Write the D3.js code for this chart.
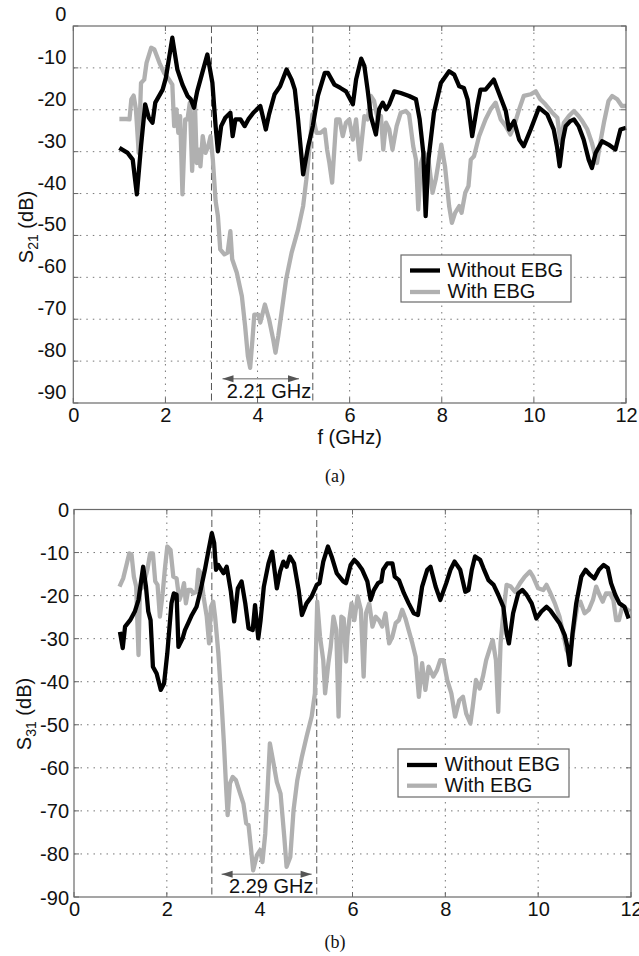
<!DOCTYPE html>
<html><head><meta charset="utf-8">
<script src="https://cdn.jsdelivr.net/npm/d3@7"></script>
<style>body{margin:0;background:#fff}svg{display:block}</style>
</head><body>
<svg id="c" width="639" height="956"></svg>
<script>
// ---------- data ----------
const xTicks = [0, 2, 4, 6, 8, 10, 12];
const yTicks = [0, -10, -20, -30, -40, -50, -60, -70, -80, -90];
const seriesNames = ["Without EBG", "With EBG"];
const bandLabels = ["2.21 GHz", "2.29 GHz"];
const bandEdgesA = [3.0, 5.2];
const bandEdgesB = [2.97, 5.23];

const s21Without = [[1.00,-29.1],[1.18,-30.3],[1.29,-31.9],[1.38,-40.2],[1.47,-28.7],[1.56,-18.7],[1.64,-21.9],[1.72,-23.1],[1.78,-18.3],[1.94,-15.2],[2.01,-12.4],[2.15,-2.8],[2.26,-10.4],[2.37,-14],[2.48,-16.7],[2.55,-17.5],[2.62,-19.5],[2.69,-15.6],[2.80,-11.2],[2.91,-6.8],[3.02,-13.6],[3.09,-23.9],[3.14,-29.9],[3.21,-23.9],[3.30,-21.9],[3.41,-20.7],[3.46,-26.3],[3.52,-22.3],[3.63,-22.3],[3.72,-23.9],[3.80,-22.3],[3.91,-20.7],[4.06,-19.1],[4.13,-22.3],[4.18,-24.7],[4.25,-21.1],[4.37,-16.3],[4.49,-14.4],[4.63,-10.4],[4.74,-12.8],[4.81,-15.2],[4.88,-22.3],[4.99,-35.4],[5.10,-28.7],[5.20,-23.9],[5.31,-16.7],[5.46,-11.2],[5.53,-11.2],[5.67,-14],[5.80,-14.8],[5.92,-15.6],[6.07,-18.7],[6.14,-12.8],[6.25,-7.8],[6.32,-9.6],[6.39,-15.2],[6.46,-21.5],[6.57,-25.9],[6.64,-19.9],[6.72,-18.3],[6.79,-19.9],[6.86,-18.7],[6.97,-15.6],[7.11,-16],[7.29,-16.7],[7.44,-17.5],[7.52,-22.3],[7.60,-30.3],[7.65,-45.4],[7.71,-31.9],[7.83,-20.7],[7.98,-13.6],[8.16,-10.8],[8.27,-11.6],[8.38,-14.4],[8.48,-14.8],[8.56,-17.5],[8.66,-26.3],[8.77,-19.1],[8.84,-15.2],[8.95,-15.2],[9.13,-12.8],[9.24,-16],[9.39,-20.3],[9.46,-24.7],[9.57,-22.7],[9.68,-27.1],[9.78,-28.7],[9.93,-24.7],[10.11,-19.5],[10.29,-21.1],[10.43,-24.7],[10.50,-28.7],[10.56,-33.5],[10.63,-27.1],[10.69,-23.9],[10.79,-22.7],[10.87,-22.3],[10.97,-23.9],[11.08,-27.1],[11.19,-31.9],[11.26,-33.9],[11.34,-30.3],[11.48,-27.5],[11.62,-28.3],[11.77,-29.5],[11.88,-24.7],[12.0,-24.3]];

const s21With = [[1.00,-22.2],[1.15,-22.2],[1.22,-22.3],[1.26,-17.5],[1.31,-16.6],[1.36,-19.9],[1.42,-30.3],[1.47,-13.6],[1.54,-12.8],[1.59,-8.8],[1.69,-5.2],[1.76,-5.6],[1.87,-8.8],[1.97,-11.2],[2.08,-12.8],[2.15,-14],[2.19,-23.9],[2.24,-19.9],[2.28,-25.5],[2.32,-21.5],[2.37,-40.2],[2.43,-22.3],[2.48,-22.3],[2.53,-18.3],[2.58,-34.6],[2.64,-18.3],[2.68,-32.7],[2.73,-29.5],[2.76,-33.5],[2.81,-26.3],[2.87,-30.3],[2.93,-28.7],[2.98,-26.3],[3.03,-31.9],[3.09,-41.8],[3.14,-45.4],[3.19,-53.3],[3.28,-54.5],[3.35,-54.1],[3.41,-49.0],[3.45,-55.7],[3.55,-58.9],[3.66,-64.5],[3.73,-71.6],[3.79,-78.8],[3.84,-81.6],[3.89,-74.8],[3.93,-68.9],[4.02,-68.9],[4.06,-70.8],[4.16,-66.5],[4.25,-70.0],[4.34,-74.8],[4.39,-78.0],[4.45,-74.0],[4.52,-68.5],[4.62,-60.5],[4.74,-54.1],[4.88,-48.6],[4.99,-43.0],[5.06,-36.6],[5.13,-28.7],[5.19,-21.1],[5.28,-25.5],[5.37,-25.5],[5.46,-24.7],[5.51,-29.5],[5.56,-32.7],[5.62,-37.4],[5.71,-22.3],[5.78,-22.3],[5.85,-26.3],[5.92,-23.1],[5.99,-22.3],[6.07,-27.1],[6.14,-22.3],[6.22,-31.9],[6.32,-21.5],[6.39,-22.3],[6.46,-16.7],[6.53,-17.9],[6.61,-22.3],[6.68,-21.5],[6.73,-29.5],[6.79,-23.1],[6.86,-24.7],[6.93,-29.5],[7.02,-23.9],[7.11,-20.7],[7.22,-20.3],[7.29,-21.1],[7.38,-28.7],[7.44,-31.9],[7.49,-43.8],[7.55,-32.7],[7.62,-30.3],[7.71,-31.9],[7.80,-39.8],[7.87,-36.6],[7.94,-31.9],[7.99,-28.3],[8.07,-33.5],[8.16,-43.0],[8.22,-47.0],[8.29,-44.6],[8.38,-43.0],[8.43,-44.6],[8.51,-39.8],[8.58,-38.2],[8.63,-31.9],[8.70,-31.1],[8.81,-26.3],[8.95,-22.3],[9.06,-19.9],[9.17,-18.3],[9.28,-22.3],[9.39,-23.9],[9.49,-25.9],[9.57,-23.9],[9.68,-19.9],[9.78,-16.7],[9.93,-16.3],[10.04,-15.6],[10.14,-17.5],[10.25,-18.7],[10.40,-20.7],[10.51,-21.9],[10.58,-27.9],[10.65,-23.1],[10.76,-21.5],[10.87,-20.3],[10.97,-21.5],[11.05,-22.7],[11.16,-24.7],[11.26,-27.9],[11.37,-32.7],[11.44,-27.9],[11.52,-23.1],[11.62,-17.9],[11.70,-16.7],[11.81,-17.5],[11.91,-19.1],[12.0,-19.1]];

const s31Without = [[0.99,-28.4],[1.05,-32.2],[1.10,-27.2],[1.21,-25.7],[1.31,-23.7],[1.39,-21.0],[1.44,-17.1],[1.49,-13.3],[1.55,-17.9],[1.60,-23.7],[1.65,-25.7],[1.70,-36.5],[1.78,-38.1],[1.87,-41.9],[1.94,-40.4],[2.01,-33.4],[2.10,-21.8],[2.15,-19.5],[2.21,-19.8],[2.25,-31.9],[2.34,-29.9],[2.39,-28.0],[2.46,-26.4],[2.54,-24.5],[2.64,-22.6],[2.72,-19.1],[2.82,-14.0],[2.90,-9.4],[2.97,-5.5],[3.02,-7.8],[3.06,-14.0],[3.11,-12.9],[3.22,-14.8],[3.29,-13.3],[3.38,-19.1],[3.45,-26.0],[3.53,-18.3],[3.61,-16.7],[3.69,-21.8],[3.76,-27.6],[3.85,-28.0],[3.90,-22.2],[3.97,-29.9],[4.02,-25.7],[4.09,-17.9],[4.19,-12.5],[4.27,-9.8],[4.37,-18.3],[4.44,-14.4],[4.51,-12.1],[4.58,-13.3],[4.65,-10.9],[4.74,-12.5],[4.84,-18.7],[4.91,-24.5],[5.01,-21.8],[5.12,-20.2],[5.23,-17.5],[5.29,-17.1],[5.37,-12.1],[5.47,-8.6],[5.55,-10.9],[5.66,-14.8],[5.80,-16.7],[5.86,-17.1],[5.96,-12.9],[6.04,-11.7],[6.11,-12.5],[6.21,-14.0],[6.32,-16.7],[6.39,-21.0],[6.46,-18.7],[6.55,-17.1],[6.62,-16.7],[6.66,-14.0],[6.75,-12.5],[6.86,-12.5],[6.91,-15.6],[7.00,-16.4],[7.11,-19.5],[7.21,-21.8],[7.32,-24.1],[7.41,-24.5],[7.50,-17.9],[7.61,-14.0],[7.68,-13.3],[7.79,-17.9],[7.89,-21.0],[8.02,-17.1],[8.11,-14.0],[8.20,-12.1],[8.32,-14.0],[8.43,-19.1],[8.50,-18.7],[8.57,-14.0],[8.64,-10.9],[8.75,-11.7],[8.82,-13.6],[8.93,-16.4],[9.04,-17.5],[9.14,-19.8],[9.25,-22.6],[9.32,-28.8],[9.37,-31.1],[9.46,-24.1],[9.57,-19.5],[9.66,-18.7],[9.75,-19.8],[9.86,-21.8],[9.96,-25.3],[10.07,-23.7],[10.18,-22.6],[10.26,-23.4],[10.36,-24.9],[10.46,-26.4],[10.57,-29.1],[10.63,-31.9],[10.68,-36.1],[10.74,-28.8],[10.82,-21.8],[10.93,-15.6],[11.02,-14.0],[11.12,-15.2],[11.21,-16.0],[11.31,-14.0],[11.41,-12.9],[11.50,-13.6],[11.57,-17.1],[11.66,-19.8],[11.75,-21.8],[11.86,-22.6],[11.95,-25.3]];

const s31With = [[0.98,-17.9],[1.06,-16.0],[1.14,-12.5],[1.19,-10.2],[1.24,-10.5],[1.29,-15.6],[1.34,-17.9],[1.39,-33.8],[1.42,-18.7],[1.49,-17.9],[1.58,-14.0],[1.64,-10.2],[1.70,-10.2],[1.75,-16.7],[1.80,-17.5],[1.85,-24.9],[1.91,-19.5],[1.96,-13.6],[2.01,-8.6],[2.08,-9.4],[2.14,-15.6],[2.21,-16.0],[2.27,-21.0],[2.32,-19.5],[2.37,-17.1],[2.41,-21.8],[2.46,-18.7],[2.52,-18.7],[2.57,-19.5],[2.64,-19.1],[2.68,-14.0],[2.73,-14.8],[2.79,-20.2],[2.86,-24.9],[2.91,-31.1],[2.95,-22.6],[3.00,-21.4],[3.04,-24.9],[3.11,-33.4],[3.18,-45.0],[3.23,-54.3],[3.28,-65.2],[3.31,-71.0],[3.36,-63.6],[3.42,-62.1],[3.49,-62.9],[3.58,-66.0],[3.65,-68.3],[3.71,-72.9],[3.76,-73.3],[3.81,-78.4],[3.86,-83.8],[3.94,-80.3],[4.01,-79.1],[4.06,-81.9],[4.12,-75.3],[4.17,-65.2],[4.22,-54.3],[4.30,-59.0],[4.37,-63.3],[4.45,-66.0],[4.53,-76.0],[4.58,-83.0],[4.66,-80.7],[4.73,-69.8],[4.81,-62.9],[4.91,-57.4],[5.01,-52.8],[5.12,-48.1],[5.19,-42.7],[5.24,-21.4],[5.30,-29.5],[5.37,-35.0],[5.41,-42.7],[5.48,-35.7],[5.53,-31.9],[5.59,-24.9],[5.65,-28.0],[5.70,-48.1],[5.76,-24.9],[5.81,-25.3],[5.86,-35.3],[5.89,-29.5],[5.93,-25.7],[5.98,-21.8],[6.04,-25.7],[6.11,-20.2],[6.18,-23.3],[6.24,-38.8],[6.29,-24.1],[6.36,-21.8],[6.43,-27.2],[6.50,-24.9],[6.57,-25.7],[6.64,-27.2],[6.71,-24.1],[6.79,-31.1],[6.86,-29.5],[6.93,-26.4],[7.00,-25.7],[7.07,-23.3],[7.14,-25.3],[7.21,-28.0],[7.29,-31.1],[7.36,-34.2],[7.43,-43.5],[7.50,-35.7],[7.57,-41.9],[7.64,-36.5],[7.74,-38.8],[7.82,-37.3],[7.89,-35.0],[7.96,-35.0],[8.04,-39.6],[8.13,-42.7],[8.21,-48.1],[8.30,-44.3],[8.38,-43.5],[8.45,-47.4],[8.54,-49.7],[8.59,-45.8],[8.66,-39.6],[8.74,-41.6],[8.81,-38.8],[8.88,-35.0],[8.95,-32.6],[9.02,-30.3],[9.09,-35.0],[9.14,-47.0],[9.19,-31.1],[9.25,-24.1],[9.32,-17.5],[9.41,-17.9],[9.50,-19.1],[9.61,-17.1],[9.71,-15.6],[9.82,-14.4],[9.89,-15.6],[10.0,-18.3],[10.11,-18.7],[10.18,-17.5],[10.25,-19.1],[10.36,-21.8],[10.46,-24.9],[10.54,-28.8],[10.61,-32.6],[10.68,-34.2],[10.75,-28.8],[10.84,-22.6],[10.91,-21.4],[11.00,-24.1],[11.09,-23.3],[11.18,-21.0],[11.25,-17.9],[11.32,-19.8],[11.39,-21.4],[11.46,-19.5],[11.55,-19.5],[11.62,-21.0],[11.68,-25.7],[11.74,-25.7],[11.81,-22.6],[11.89,-23.0],[11.98,-23.7]];

// ---------- drawing ----------
const svg = d3.select("#c");
const FONT = "'Liberation Sans', Arial, Helvetica, sans-serif";
const FS = 20;
const BLACK = "#000", GRAY = "#b0b0b0";

function panel(o) {
  const x = d3.scaleLinear().domain([0, 12]).range([o.left, o.right]);
  const y = d3.scaleLinear().domain([-90, 0]).range([o.bottom, o.top]);
  const g = svg.append("g");

  // grid
  g.append("g").selectAll("line").data(xTicks.slice(1, -1)).join("line")
    .attr("x1", d => x(d)).attr("x2", d => x(d)).attr("y1", o.top).attr("y2", o.bottom)
    .attr("stroke", "#777").attr("stroke-width", 1).attr("stroke-dasharray", "1.5,5");
  g.append("g").selectAll("line").data(yTicks.slice(1, -1)).join("line")
    .attr("x1", o.left).attr("x2", o.right).attr("y1", d => y(d)).attr("y2", d => y(d))
    .attr("stroke", "#777").attr("stroke-width", 1).attr("stroke-dasharray", "1.5,5");

  // band edges (dashed)
  g.append("g").selectAll("line").data(o.edges).join("line")
    .attr("x1", d => x(d)).attr("x2", d => x(d)).attr("y1", o.top).attr("y2", o.bottom)
    .attr("stroke", "#555").attr("stroke-width", 1).attr("stroke-dasharray", "7,3.5");

  // inward ticks
  const tk = g.append("g").attr("stroke", "#666").attr("stroke-width", 1);
  xTicks.forEach(d => {
    tk.append("line").attr("x1", x(d)).attr("x2", x(d)).attr("y1", o.bottom).attr("y2", o.bottom - 5);
    tk.append("line").attr("x1", x(d)).attr("x2", x(d)).attr("y1", o.top).attr("y2", o.top + 5);
  });
  yTicks.forEach(d => {
    tk.append("line").attr("x1", o.left).attr("x2", o.left + 5).attr("y1", y(d)).attr("y2", y(d));
    tk.append("line").attr("x1", o.right).attr("x2", o.right - 5).attr("y1", y(d)).attr("y2", y(d));
  });

  // lines
  const line = d3.line().x(d => x(d[0])).y(d => y(d[1]));
  g.append("path").datum(o.with).attr("d", line).attr("fill", "none")
    .attr("stroke", GRAY).attr("stroke-width", 4.3).attr("stroke-linejoin", "round");
  g.append("path").datum(o.without).attr("d", line).attr("fill", "none")
    .attr("stroke", BLACK).attr("stroke-width", 4.3).attr("stroke-linejoin", "round");

  // frame
  g.append("rect").attr("x", o.left).attr("y", o.top)
    .attr("width", o.right - o.left).attr("height", o.bottom - o.top)
    .attr("fill", "none").attr("stroke", "#6a6a6a").attr("stroke-width", 1.2);

  // axes labels
  const ax = g.append("g").attr("transform", `translate(0,${o.bottom})`)
    .call(d3.axisBottom(x).tickValues(xTicks).tickFormat(d => String(d)).tickSize(0).tickPadding(5));
  ax.select(".domain").remove();
  ax.selectAll("text").attr("font-family", FONT).attr("font-size", FS).attr("fill", "#111");

  const ay = g.append("g").attr("transform", `translate(${o.left},0)`)
    .call(d3.axisLeft(y).tickValues(yTicks).tickFormat(d => String(d)).tickSize(0).tickPadding(o.yPad));
  ay.select(".domain").remove();
  ay.selectAll("text").attr("font-family", FONT).attr("font-size", FS).attr("fill", "#111")
    .attr("dy", d => (o.yShift + (d === 0 ? o.zeroShift : 0) + 7) + "px");

  // y label
  const yl = g.append("text").attr("transform", `translate(${o.ylx},${o.yly}) rotate(-90)`)
    .attr("text-anchor", "middle").attr("font-family", FONT).attr("font-size", FS).attr("fill", "#111");
  yl.append("tspan").text("S");
  yl.append("tspan").text(o.sub).attr("font-size", 14).attr("dy", 5);
  yl.append("tspan").text(" (dB)").attr("dy", -5);

  // arrow annotation
  const ay0 = y(o.arrowY);
  g.append("line").attr("x1", x(o.arrow[0])).attr("x2", x(o.arrow[1])).attr("y1", ay0).attr("y2", ay0)
    .attr("stroke", "#9a9a9a").attr("stroke-width", 1.5);
  const xa = x(o.arrow[0]), xb = x(o.arrow[1]);
  g.append("path").attr("d", `M${xa},${ay0} L${xa + 11},${ay0 - 3.5} L${xa + 11},${ay0 + 3.5} Z`).attr("fill", "#555");
  g.append("path").attr("d", `M${xb},${ay0} L${xb - 11},${ay0 - 3.5} L${xb - 11},${ay0 + 3.5} Z`).attr("fill", "#555");
  g.append("text").attr("x", x(o.labelX)).attr("y", y(o.labelY)).attr("text-anchor", "middle")
    .attr("font-family", FONT).attr("font-size", FS).attr("fill", "#111").text(o.label);

  // legend
  const L = o.legend;
  const lg = g.append("g");
  lg.append("rect").attr("x", L.x).attr("y", L.y).attr("width", L.w).attr("height", L.h)
    .attr("fill", "#fff").attr("stroke", "#6a6a6a").attr("stroke-width", 1.2);
  [BLACK, GRAY].forEach((c, i) => {
    const ly = L.y + L.l1 + i * L.dy;
    lg.append("line").attr("x1", L.x + 9).attr("x2", L.x + 39).attr("y1", ly).attr("y2", ly)
      .attr("stroke", c).attr("stroke-width", 4.3);
    lg.append("text").attr("x", L.x + 46.5).attr("y", ly + 6).attr("font-family", FONT)
      .attr("font-size", FS).attr("fill", "#111").text(seriesNames[i]);
  });

  // caption
  g.append("text").attr("x", o.capX).attr("y", o.capY).attr("text-anchor", "middle")
    .attr("font-family", "'Liberation Serif', 'Times New Roman', serif").attr("font-size", 18)
    .attr("fill", "#111").text(o.caption);
  return {x, y, g};
}

const A = panel({
  left: 73.3, right: 626, top: 26, bottom: 403,
  without: s21Without, with: s21With, edges: bandEdgesA,
  yPad: 7, yShift: -11.5, zeroShift: -1, sub: "21", ylx: 33, yly: 227,
  arrow: [3.24, 4.90], arrowY: -84.2, label: bandLabels[0], labelX: 4.25, labelY: -88.8,
  legend: {x: 401, y: 255, w: 170, h: 47, l1: 15.5, dy: 21.5},
  caption: "(a)", capX: 335, capY: 482
});
A.g.append("text").attr("x", (73.3 + 626) / 2).attr("y", 444).attr("text-anchor", "middle")
  .attr("font-family", FONT).attr("font-size", FS).attr("fill", "#111").text("f (GHz)");

panel({
  left: 74, right: 631, top: 509.5, bottom: 897,
  without: s31Without, with: s31With, edges: bandEdgesB,
  yPad: 5, yShift: 0, zeroShift: 0, sub: "31", ylx: 31, yly: 714,
  arrow: [3.18, 5.12], arrowY: -84.7, label: bandLabels[1], labelX: 4.25, labelY: -89.1,
  legend: {x: 398, y: 749, w: 171, h: 48, l1: 16, dy: 20.7},
  caption: "(b)", capX: 335, capY: 948
});
</script>
</body></html>
